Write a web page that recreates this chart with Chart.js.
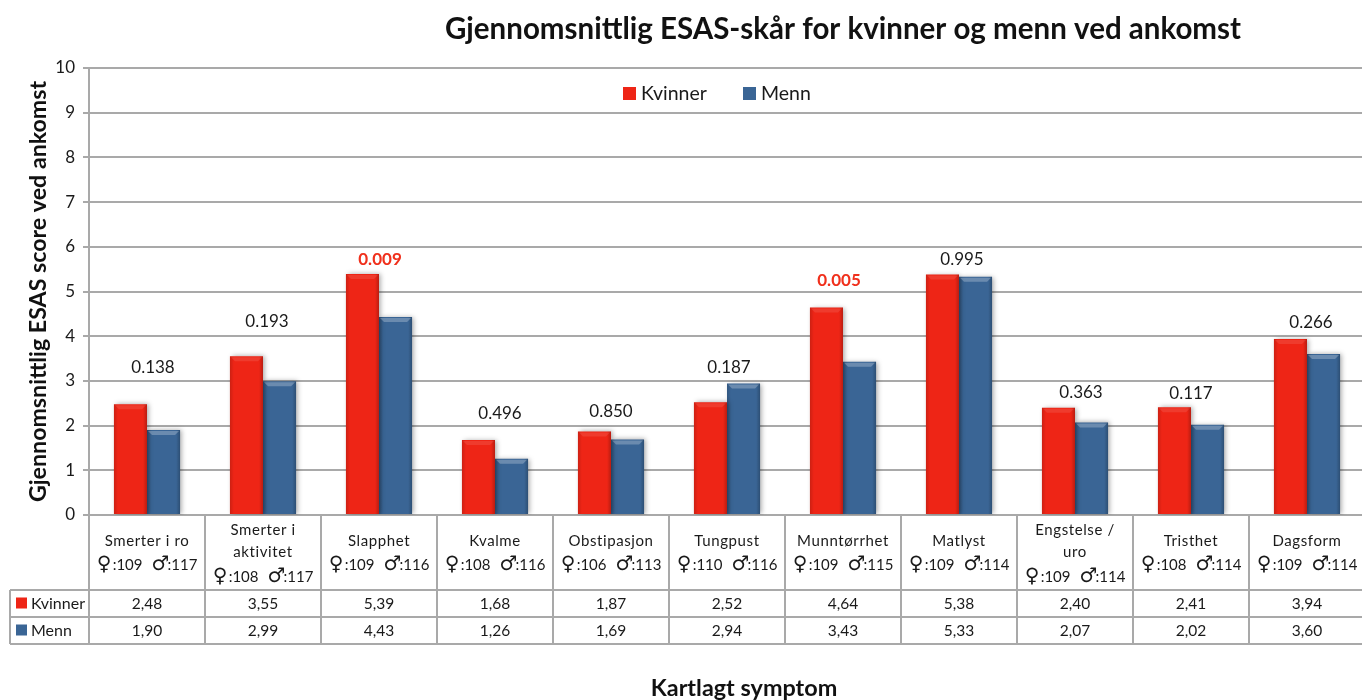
<!DOCTYPE html>
<html>
<head>
<meta charset="utf-8">
<title>ESAS</title>
<script src="https://cdn.jsdelivr.net/npm/chart.js@4/dist/chart.umd.min.js"></script>
<style>
  html, body { margin: 0; padding: 0; background: #fff; overflow: hidden; }
  #wrap { width: 1362px; height: 700px; overflow: hidden; }
  canvas { display: block; }
</style>
</head>
<body>
<div id="wrap"><canvas id="chart" width="1380" height="700"></canvas></div>
<script>
const categories = [
  ["Smerter i ro"], ["Smerter i", "aktivitet"], ["Slapphet"], ["Kvalme"], ["Obstipasjon"], ["Tungpust"],
  ["Munntørrhet"], ["Matlyst"], ["Engstelse /", "uro"], ["Tristhet"], ["Dagsform"]
];
const kvinner = [2.48, 3.55, 5.39, 1.68, 1.87, 2.52, 4.64, 5.38, 2.40, 2.41, 3.94];
const menn = [1.90, 2.99, 4.43, 1.26, 1.69, 2.94, 3.43, 5.33, 2.07, 2.02, 3.60];
const antallKvinner = [109, 108, 109, 108, 106, 110, 109, 109, 109, 108, 109];
const antallMenn = [117, 117, 116, 116, 113, 116, 115, 114, 114, 114, 114];
const pValues = ["0.138", "0.193", "0.009", "0.496", "0.850", "0.187", "0.005", "0.995", "0.363", "0.117", "0.266"];
// height of each p-value label, read in ESAS units
const pLevels = [3.29, 4.32, 5.71, 2.26, 2.31, 3.31, 5.24, 5.71, 2.75, 2.71, 4.30];
const yTicks = [0, 1, 2, 3, 4, 5, 6, 7, 8, 9, 10];

const RED = "#ee2516";
const BLUE = "#3a6595";
const GRID = "#a9a9a9";
const FONT = "Lato, 'Open Sans', sans-serif";
// the p-values are not quite centred over their groups in the original
const pNudge = [6, 4, 1, 5, 0, 2, -4, 3, 6, 0, 4];

function comma(v) { return v.toFixed(2).replace(".", ","); }

function drawCounts(ctx, cx, y, f, m) {
  const gap = 9, sym = 16;
  ctx.letterSpacing = "0px";
  ctx.font = "15px " + FONT;
  const fText = ":" + f, mText = ":" + m;
  const fw = ctx.measureText(fText).width, mw = ctx.measureText(mText).width;
  let x = cx - (sym * 2 + fw + mw + gap) / 2;
  ctx.textAlign = "left";
  ctx.font = "bold 20px 'DejaVu Sans'";
  ctx.fillText("♀", x, y);
  x += sym;
  ctx.font = "15px " + FONT;
  ctx.fillText(fText, x, y);
  x += fw + gap;
  ctx.font = "bold 20px 'DejaVu Sans'";
  ctx.fillText("♂", x, y);
  x += sym;
  ctx.font = "15px " + FONT;
  ctx.fillText(mText, x, y);
}

const tablePlugin = {
  id: "esasTable",
  beforeDatasetDraw(chart) {
    const ctx = chart.ctx;
    ctx.save();
    ctx.shadowColor = "rgba(0,0,0,0.35)";
    ctx.shadowBlur = 5;
    ctx.shadowOffsetX = 2;
  },
  afterDatasetDraw(chart) {
    chart.ctx.restore();
  },
  afterDatasetsDraw(chart) {
    const ctx = chart.ctx;
    // bevel on the bars
    chart.data.datasets.forEach((ds, i) => {
      chart.getDatasetMeta(i).data.forEach(bar => {
        const left = bar.x - bar.width / 2, right = bar.x + bar.width / 2;
        const g = ctx.createLinearGradient(left, 0, right, 0);
        g.addColorStop(0, "rgba(0,0,0,0.14)");
        g.addColorStop(0.12, "rgba(0,0,0,0)");
        g.addColorStop(0.88, "rgba(0,0,0,0)");
        g.addColorStop(1, "rgba(0,0,0,0.22)");
        ctx.fillStyle = g;
        ctx.fillRect(left, bar.y, bar.width, bar.base - bar.y);
        ctx.fillStyle = i === 0 ? "rgba(255,255,255,0.1)" : "rgba(255,255,255,0.25)";
        ctx.beginPath();
        ctx.moveTo(left + 1, bar.y + 1);
        ctx.lineTo(right - 1, bar.y + 1);
        ctx.lineTo(right - 5, bar.y + 5);
        ctx.lineTo(left + 5, bar.y + 5);
        ctx.closePath();
        ctx.fill();
      });
    });

    const x = chart.scales.x, y = chart.scales.y;
    const area = chart.chartArea;
    const step = x.getPixelForValue(1) - x.getPixelForValue(0);
    const rows = [area.bottom + 75, area.bottom + 102, area.bottom + 129];
    ctx.save();
    ctx.textBaseline = "middle";

    // p-values
    pValues.forEach((p, i) => {
      const sig = parseFloat(p) < 0.05;
      ctx.font = (sig ? "bold " : "") + "17px " + FONT;
      ctx.fillStyle = sig ? "#f0301c" : "#1a1a1a";
      ctx.textAlign = "center";
      ctx.fillText(p, x.getPixelForValue(i) + pNudge[i], y.getPixelForValue(pLevels[i]));
    });

    // table lines
    ctx.strokeStyle = GRID;
    ctx.lineWidth = 2;
    ctx.beginPath();
    rows.forEach(r => { ctx.moveTo(10, r); ctx.lineTo(area.right, r); });
    ctx.moveTo(10, rows[0]); ctx.lineTo(10, rows[2]);
    for (let i = 0; i <= categories.length; i++) {
      const px = x.getPixelForValue(i) - step / 2;
      ctx.moveTo(px, area.bottom); ctx.lineTo(px, rows[2]);
    }
    ctx.stroke();

    // category cells
    ctx.fillStyle = "#1a1a1a";
    categories.forEach((lines, i) => {
      const cx = x.getPixelForValue(i);
      ctx.textAlign = "center";
      ctx.font = "15px " + FONT;
      ctx.letterSpacing = "0.6px";
      const top = lines.length > 1 ? area.bottom + 15 : area.bottom + 26;
      lines.forEach((t, j) => ctx.fillText(t, cx, top + j * 22));
      drawCounts(ctx, cx, top + lines.length * 23 + 1, antallKvinner[i], antallMenn[i]);
      ctx.letterSpacing = "0px";
      ctx.textAlign = "center";
      ctx.font = "15.5px " + FONT;
      ctx.fillText(comma(kvinner[i]), cx, (rows[0] + rows[1]) / 2);
      ctx.fillText(comma(menn[i]), cx, (rows[1] + rows[2]) / 2);
    });

    // row heads
    chart.data.datasets.forEach((ds, i) => {
      const my = (rows[i] + rows[i + 1]) / 2;
      ctx.fillStyle = ds.backgroundColor;
      ctx.fillRect(16, my - 6, 11, 11);
      ctx.fillStyle = "#1a1a1a";
      ctx.textAlign = "left";
      ctx.font = "16px " + FONT;
      ctx.fillText(ds.label, 31, my);
    });

    // legend
    const legendY = 94;
    [[623, 641], [743, 761]].forEach((pos, i) => {
      const ds = chart.data.datasets[i];
      ctx.fillStyle = ds.backgroundColor;
      ctx.fillRect(pos[0], legendY - 7, 13, 13);
      ctx.fillStyle = "#1a1a1a";
      ctx.textAlign = "left";
      ctx.font = "19.5px " + FONT;
      ctx.fillText(ds.label, pos[1], legendY);
    });

    // titles
    ctx.fillStyle = "#111";
    ctx.textAlign = "center";
    ctx.font = "bold 29.5px " + FONT;
    ctx.fillText("Gjennomsnittlig ESAS-skår for kvinner og menn ved ankomst", 843, 29);
    ctx.font = "bold 23.4px " + FONT;
    ctx.fillText("Kartlagt symptom", 744, 688);
    ctx.restore();
  }
};

new Chart(document.getElementById("chart"), {
  type: "bar",
  data: {
    labels: categories.map(c => c.join(" ")),
    datasets: [
      { label: "Kvinner", data: kvinner, backgroundColor: RED },
      { label: "Menn", data: menn, backgroundColor: BLUE }
    ]
  },
  options: {
    responsive: false,
    animation: false,
    devicePixelRatio: 1,
    layout: { padding: { top: 68, right: 15, bottom: 185, left: 0 } },
    categoryPercentage: 0.57,
    barPercentage: 1,
    plugins: { legend: { display: false }, tooltip: { enabled: false } },
    scales: {
      x: {
        ticks: { display: false },
        grid: { display: false },
        border: { display: false },
        afterFit(s) { s.height = 0; }
      },
      y: {
        min: 0,
        max: 10,
        afterBuildTicks(s) { s.ticks = yTicks.map(v => ({ value: v })); },
        afterFit(s) { s.width = 89; },
        ticks: { color: "#1a1a1a", font: { family: FONT, size: 17 }, padding: 8 },
        grid: { color: GRID, lineWidth: 2, tickLength: 6 },
        border: { color: GRID, width: 2 },
        title: {
          display: true,
          text: "Gjennomsnittlig ESAS score ved ankomst",
          color: "#111",
          font: { family: FONT, size: 23.2, weight: "bold" },
          padding: { top: 25, bottom: 0 }
        }
      }
    }
  },
  plugins: [tablePlugin]
});
</script>
</body>
</html>
